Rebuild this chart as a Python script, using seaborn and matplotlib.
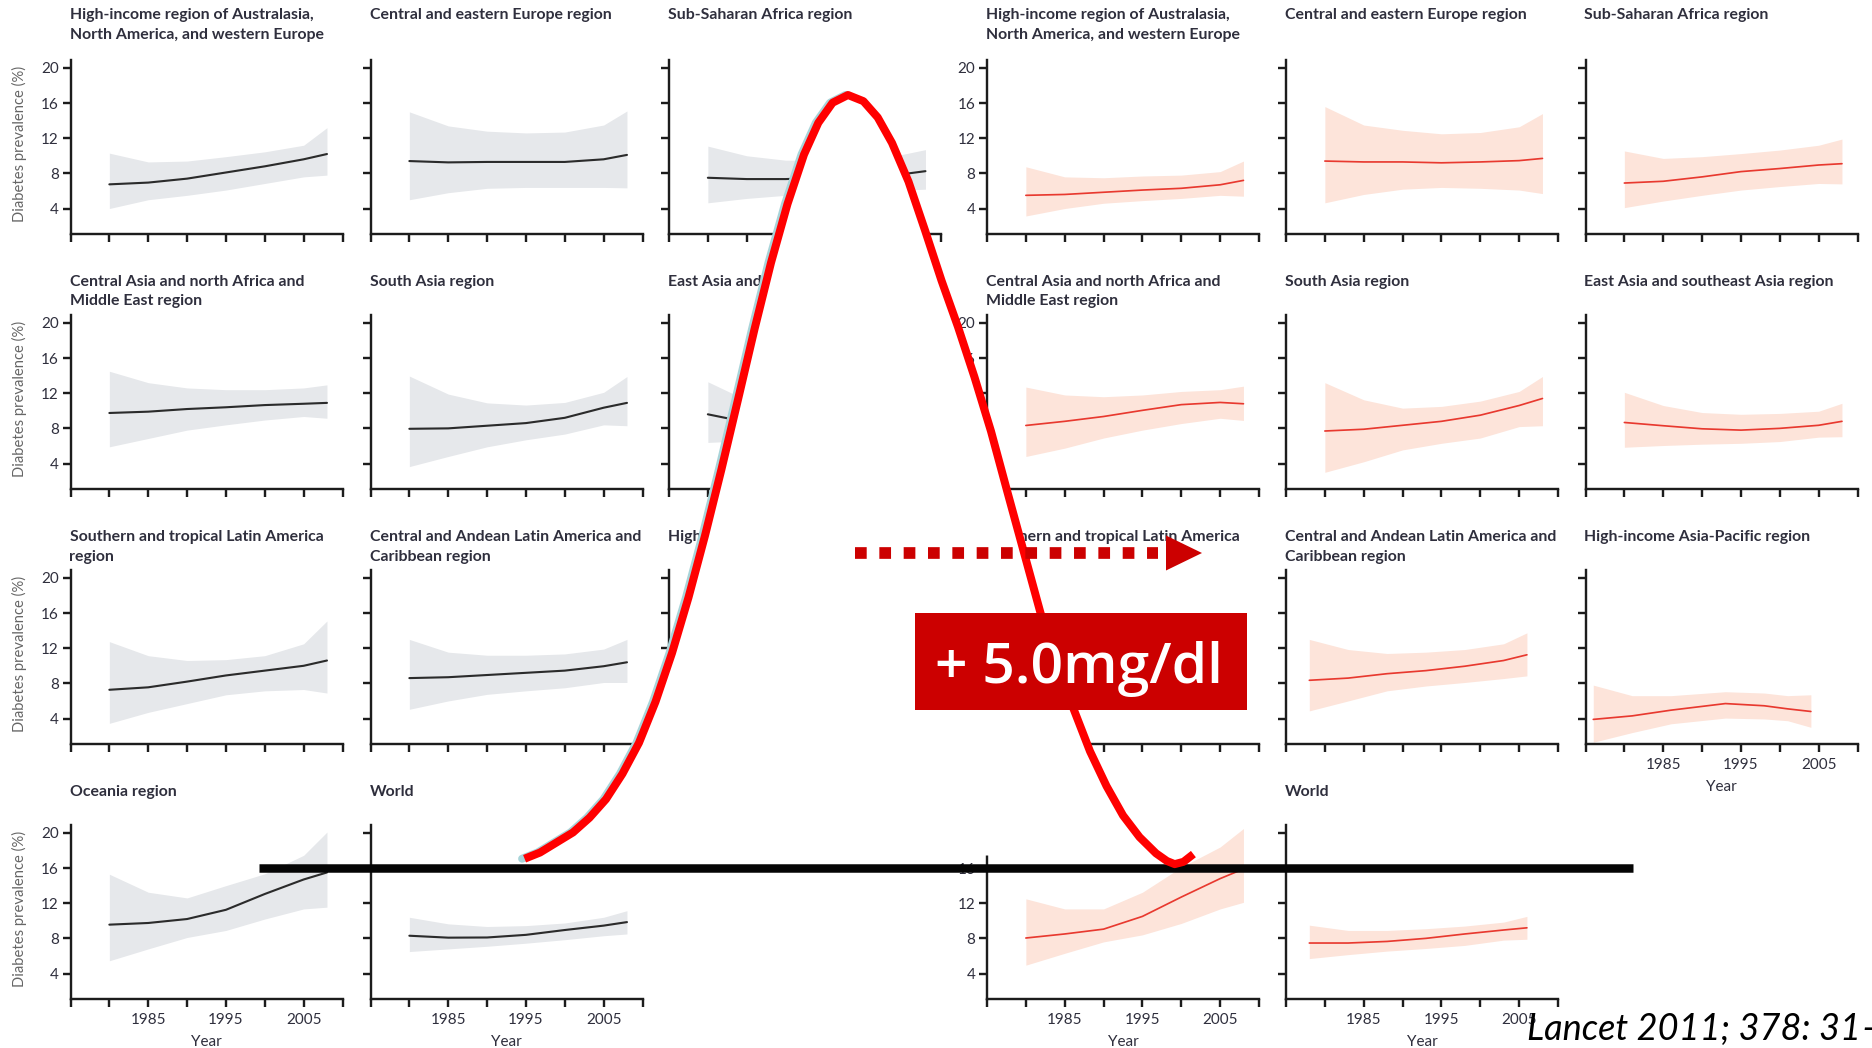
import matplotlib

matplotlib.use("Agg")
import matplotlib.pyplot as plt
import pandas as pd
import seaborn as sns
from matplotlib.patches import Polygon, Rectangle
from matplotlib.transforms import offset_copy

W, H = 1872, 1048
PT = 72 / 100  # points per pixel at dpi 100

REGIONS = [
    "High-income region of Australasia,\nNorth America, and western Europe",
    "Central and eastern Europe region",
    "Sub-Saharan Africa region",
    "Central Asia and north Africa and\nMiddle East region",
    "South Asia region",
    "East Asia and southeast Asia region",
    "Southern and tropical Latin America\nregion",
    "Central and Andean Latin America and\nCaribbean region",
    "High-income Asia-Pacific region",
    "Oceania region",
    "World",
]

YEARS = [1980, 1985, 1990, 1995, 2000, 2005, 2008]
YEARS_EARLY = [1978, 1983, 1988, 1993, 1998, 2003, 2006]
YEARS_HIAP = [1976, 1981, 1986, 1993, 1998, 2001, 2004]

X_TICKS = [1975, 1980, 1985, 1990, 1995, 2000, 2005, 2010]
X_LABELLED = ["1985", "1995", "2005"]
Y_TICKS = [4, 8, 12, 16, 20]

# left block, grey bands
GREY_HIWEST = [6.75, 6.95, 7.4, 8.1, 8.8, 9.6, 10.2]
GREY_HIWEST_LO = [4.0, 5.0, 5.5, 6.1, 6.85, 7.6, 7.8]
GREY_HIWEST_HI = [10.3, 9.3, 9.4, 9.9, 10.45, 11.2, 13.2]
GREY_CEEUR = [9.4, 9.25, 9.3, 9.3, 9.3, 9.6, 10.1]
GREY_CEEUR_LO = [5.0, 5.8, 6.3, 6.4, 6.4, 6.4, 6.35]
GREY_CEEUR_HI = [15.0, 13.4, 12.8, 12.6, 12.7, 13.5, 15.1]
GREY_SSA = [7.5, 7.35, 7.35, 7.5, 7.7, 7.9, 8.25]
GREY_SSA_LO = [4.65, 5.15, 5.5, 5.7, 5.9, 6.1, 6.2]
GREY_SSA_HI = [11.1, 10.0, 9.5, 9.5, 9.7, 10.15, 10.7]
GREY_CANAME = [9.75, 9.9, 10.2, 10.4, 10.65, 10.8, 10.9]
GREY_CANAME_LO = [5.9, 6.85, 7.8, 8.4, 8.95, 9.35, 9.15]
GREY_CANAME_HI = [14.5, 13.2, 12.6, 12.4, 12.4, 12.6, 12.95]
GREY_SASIA = [7.95, 8.0, 8.3, 8.6, 9.2, 10.35, 10.9]
GREY_SASIA_LO = [3.65, 4.8, 5.9, 6.7, 7.35, 8.4, 8.3]
GREY_SASIA_HI = [13.95, 11.9, 10.9, 10.65, 10.95, 12.1, 13.9]
GREY_EASIA = [9.6, 8.7, 8.5, 8.6, 8.9, 9.3, 9.6]
GREY_EASIA_LO = [6.4, 6.6, 6.8, 7.0, 7.3, 7.6, 7.5]
GREY_EASIA_HI = [13.3, 11.2, 10.8, 10.9, 11.0, 11.5, 12.2]
GREY_STLA = [7.27, 7.55, 8.2, 8.9, 9.45, 10.0, 10.6]
GREY_STLA_LO = [3.45, 4.7, 5.7, 6.7, 7.15, 7.3, 6.9]
GREY_STLA_HI = [12.75, 11.15, 10.6, 10.7, 11.15, 12.5, 15.1]
GREY_CALA = [8.6, 8.7, 8.95, 9.2, 9.45, 9.95, 10.4]
GREY_CALA_LO = [5.05, 6.0, 6.75, 7.15, 7.5, 8.1, 8.1]
GREY_CALA_HI = [13.0, 11.55, 11.2, 11.2, 11.35, 11.9, 13.0]
GREY_OCEANIA = [9.56, 9.75, 10.2, 11.25, 13.05, 14.7, 15.5]
GREY_OCEANIA_LO = [5.45, 6.8, 8.1, 8.9, 10.2, 11.35, 11.55]
GREY_OCEANIA_HI = [15.3, 13.25, 12.6, 14.0, 15.35, 17.45, 20.1]
GREY_WORLD = [8.3, 8.08, 8.1, 8.4, 8.95, 9.45, 9.85]
GREY_WORLD_LO = [6.5, 6.8, 7.1, 7.45, 7.85, 8.3, 8.5]
GREY_WORLD_HI = [10.4, 9.65, 9.35, 9.45, 9.75, 10.4, 11.15]

# right block, red bands
RED_HIWEST = [5.5, 5.6, 5.85, 6.1, 6.3, 6.7, 7.2]
RED_HIWEST_LO = [3.15, 4.0, 4.6, 4.9, 5.15, 5.5, 5.4]
RED_HIWEST_HI = [8.75, 7.6, 7.5, 7.7, 7.8, 8.2, 9.4]
RED_CEEUR = [9.4, 9.3, 9.3, 9.2, 9.3, 9.45, 9.7]
RED_CEEUR_LO = [4.65, 5.6, 6.2, 6.4, 6.3, 6.1, 5.7]
RED_CEEUR_HI = [15.6, 13.5, 12.9, 12.5, 12.65, 13.3, 14.8]
RED_SSA = [6.9, 7.1, 7.6, 8.2, 8.55, 8.95, 9.1]
RED_SSA_LO = [4.1, 4.85, 5.5, 6.1, 6.5, 6.85, 6.8]
RED_SSA_HI = [10.55, 9.7, 9.9, 10.25, 10.65, 11.2, 11.9]
RED_CANAME = [8.33, 8.8, 9.35, 10.05, 10.7, 10.95, 10.8]
RED_CANAME_LO = [4.8, 5.75, 6.9, 7.8, 8.55, 9.15, 8.9]
RED_CANAME_HI = [12.7, 11.8, 11.6, 11.8, 12.2, 12.4, 12.8]
RED_SASIA = [7.7, 7.9, 8.35, 8.8, 9.5, 10.6, 11.4]
RED_SASIA_LO = [3.0, 4.2, 5.55, 6.3, 6.9, 8.2, 8.3]
RED_SASIA_HI = [13.2, 11.25, 10.3, 10.5, 11.1, 12.2, 13.9]
RED_EASIA = [8.67, 8.3, 7.95, 7.8, 8.0, 8.35, 8.8]
RED_EASIA_LO = [5.85, 6.05, 6.2, 6.3, 6.5, 7.0, 7.05]
RED_EASIA_HI = [12.1, 10.6, 9.8, 9.6, 9.7, 9.95, 10.85]
RED_CALA = [8.35, 8.6, 9.1, 9.45, 9.95, 10.6, 11.25]
RED_CALA_LO = [4.87, 6.0, 7.15, 7.7, 8.1, 8.55, 8.85]
RED_CALA_HI = [13.0, 11.85, 11.4, 11.55, 11.85, 12.5, 13.75]
RED_HIAP = [3.9, 4.3, 4.95, 5.7, 5.45, 5.1, 4.8]
RED_HIAP_LO = [1.3, 2.4, 3.4, 4.05, 3.95, 3.75, 3.0]
RED_HIAP_HI = [7.8, 6.6, 6.6, 7.05, 6.9, 6.6, 6.7]
RED_OCEANIA = [8.04, 8.5, 9.05, 10.5, 12.7, 14.8, 15.9]
RED_OCEANIA_LO = [4.95, 6.3, 7.6, 8.4, 9.7, 11.35, 12.1]
RED_OCEANIA_HI = [12.5, 11.35, 11.35, 13.25, 16.1, 18.4, 20.5]
RED_WORLD = [7.47, 7.47, 7.65, 8.0, 8.5, 8.95, 9.2]
RED_WORLD_LO = [5.7, 6.15, 6.55, 6.85, 7.2, 7.8, 7.9]
RED_WORLD_HI = [9.5, 8.9, 8.9, 9.1, 9.4, 9.85, 10.5]

# hand-drawn bell curve laid over the slide (x in sd, height in % of peak)
CURVE_SD = [-2.94, -2.8, -2.65, -2.5, -2.35, -2.2, -2.05, -1.9, -1.75, -1.6, -1.45,
            -1.3, -1.15, -1.0, -0.85, -0.7, -0.55, -0.4, -0.27, -0.14, 0.0,
            0.14, 0.27, 0.4, 0.55, 0.7, 0.85, 1.0, 1.15, 1.3, 1.45, 1.6, 1.75,
            1.9, 2.05, 2.2, 2.35, 2.5, 2.65, 2.8, 2.9, 2.97, 3.05, 3.14]
CURVE_HEIGHT = [1.2, 2.0, 3.3, 4.6, 6.5, 8.9, 12.2, 16.2, 21.5, 27.8, 35.0,
                43.0, 51.6, 60.6, 69.7, 78.3, 85.9, 92.3, 96.4, 99.0, 100.0,
                99.2, 97.1, 93.8, 88.8, 82.5, 76.0, 70.0, 63.5, 56.5, 48.6, 40.8, 33.0,
                26.4, 20.6, 15.1, 10.6, 6.8, 4.0, 1.9, 0.9, 0.5, 0.8, 1.8]

SHIFT_LABEL = "+ 5.0mg/dl"
SOURCE_LABEL = "Lancet 2011; 378: 31\u20134"

GREY_PANELS = [
    (0, YEARS, GREY_HIWEST, GREY_HIWEST_LO, GREY_HIWEST_HI),
    (1, YEARS, GREY_CEEUR, GREY_CEEUR_LO, GREY_CEEUR_HI),
    (2, YEARS, GREY_SSA, GREY_SSA_LO, GREY_SSA_HI),
    (3, YEARS, GREY_CANAME, GREY_CANAME_LO, GREY_CANAME_HI),
    (4, YEARS, GREY_SASIA, GREY_SASIA_LO, GREY_SASIA_HI),
    (5, YEARS, GREY_EASIA, GREY_EASIA_LO, GREY_EASIA_HI),
    (6, YEARS, GREY_STLA, GREY_STLA_LO, GREY_STLA_HI),
    (7, YEARS, GREY_CALA, GREY_CALA_LO, GREY_CALA_HI),
    (9, YEARS, GREY_OCEANIA, GREY_OCEANIA_LO, GREY_OCEANIA_HI),
    (10, YEARS, GREY_WORLD, GREY_WORLD_LO, GREY_WORLD_HI),
]
RED_PANELS = [
    (0, YEARS, RED_HIWEST, RED_HIWEST_LO, RED_HIWEST_HI),
    (1, YEARS, RED_CEEUR, RED_CEEUR_LO, RED_CEEUR_HI),
    (2, YEARS, RED_SSA, RED_SSA_LO, RED_SSA_HI),
    (3, YEARS, RED_CANAME, RED_CANAME_LO, RED_CANAME_HI),
    (4, YEARS, RED_SASIA, RED_SASIA_LO, RED_SASIA_HI),
    (5, YEARS, RED_EASIA, RED_EASIA_LO, RED_EASIA_HI),
    (7, YEARS_EARLY, RED_CALA, RED_CALA_LO, RED_CALA_HI),
    (8, YEARS_HIAP, RED_HIAP, RED_HIAP_LO, RED_HIAP_HI),
    (9, YEARS, RED_OCEANIA, RED_OCEANIA_LO, RED_OCEANIA_HI),
    (10, YEARS_EARLY, RED_WORLD, RED_WORLD_LO, RED_WORLD_HI),
]

# layout, in pixels of the 1872x1048 slide
COL_LEFT_PX = [70.5, 370.5, 669, 987, 1286, 1585.5]
ROW_BOTTOM_PX = [234, 489, 744, 999]
TITLE_TOP_PX = [8, 275, 530, 785]
AX_W_PX, AX_H_PX = 272, 174

INK = "#2f2f3d"
SPINE = "#1c1c1c"


def to_frame(panels):
    rows = []
    for region, years, mean, lo, hi in panels:
        for y, m, l, h in zip(years, mean, lo, hi):
            rows.append({"region": region, "year": y, "mean": m, "lo": l, "hi": h})
    return pd.DataFrame(rows)


def draw_block(fig, data, col0, line_color, band_color, line_px, with_ylabel):
    for idx, title in enumerate(REGIONS):
        row, col = divmod(idx, 3)
        x0 = COL_LEFT_PX[col0 + col]
        yb = ROW_BOTTOM_PX[row]
        ax = fig.add_axes([x0 / W, 1 - yb / H, AX_W_PX / W, AX_H_PX / H])
        ax.patch.set_alpha(0)
        sub = data[data["region"] == idx]
        if len(sub):
            ax.fill_between(sub["year"], sub["lo"], sub["hi"], color=band_color, lw=0)
            sns.lineplot(data=sub, x="year", y="mean", ax=ax, color=line_color,
                         lw=line_px * PT, errorbar=None)
        ax.set_xlim(1975, 2010)
        ax.set_ylim(1.1, 20.9)
        ax.set_xlabel("")
        ax.set_ylabel("")
        sns.despine(ax=ax)
        for side in ("left", "bottom"):
            ax.spines[side].set_linewidth(2.4 * PT)
            ax.spines[side].set_color(SPINE)
        ax.set_xticks(X_TICKS)
        ax.set_yticks(Y_TICKS)
        ax.tick_params(axis="both", which="major", direction="out", length=8 * PT,
                       width=2.4 * PT, color=SPINE, labelcolor=INK, labelsize=11,
                       bottom=True, left=True)
        ax.tick_params(axis="x", pad=4)
        ax.tick_params(axis="y", pad=2.6)
        if idx >= 8:
            ax.set_xticklabels([str(t) if str(t) in X_LABELLED else "" for t in X_TICKS])
            ax.set_xlabel("Year", fontsize=11, color=INK, labelpad=6)
        else:
            ax.set_xticklabels([])
        if col == 0:
            ax.set_yticklabels([str(t) for t in Y_TICKS])
        else:
            ax.set_yticklabels([])
        fig.text((x0 - 1) / W, 1 - TITLE_TOP_PX[row] / H, title, ha="left", va="top",
                 fontsize=11.4, fontweight="bold", color=INK, linespacing=1.5)
        if with_ylabel and col == 0:
            fig.text(19 / W, 1 - (yb - 90) / H, "Diabetes prevalence (%)", rotation=90,
                     ha="center", va="center", fontsize=10.6, color="#666666")


def main():
    sns.set_style("ticks")
    plt.rcParams["font.family"] = ["Lato", "DejaVu Sans"]

    fig = plt.figure(figsize=(W / 100, H / 100), dpi=100)
    fig.patch.set_facecolor("white")

    grey = to_frame(GREY_PANELS)
    red = to_frame(RED_PANELS)
    draw_block(fig, grey, 0, "#2b2b2b", "#e6e8eb", 2.1, True)
    draw_block(fig, red, 3, "#e8392f", "#fde4da", 1.7, False)

    # black reference line, under the curve
    ax_line = fig.add_axes([0, 0, 1, 1], zorder=19)
    ax_line.set_xlim(0, W)
    ax_line.set_ylim(H, 0)
    ax_line.axis("off")
    ax_line.plot([259, 1633], [868, 868], color="#050505", lw=8.5 * PT, solid_capstyle="butt")

    # bell curve, white inside so it hides the panels beneath
    centre_px, sd_px, base_px, px_per_pct = 848, 110, 868, 7.73
    ax_curve = fig.add_axes([0, 0, 1, 1], zorder=20)
    ax_curve.set_xlim(-centre_px / sd_px, (W - centre_px) / sd_px)
    ax_curve.set_ylim((base_px - H) / px_per_pct, base_px / px_per_pct)
    ax_curve.axis("off")
    ax_curve.fill(CURVE_SD, CURVE_HEIGHT, color="white", lw=0)
    left_half = CURVE_SD.index(0.0) + 1
    shadow = offset_copy(ax_curve.transData, fig=fig, x=-2.5, y=0, units="dots")
    ax_curve.plot(CURVE_SD[:left_half], CURVE_HEIGHT[:left_half], color="#a8d4d9",
                  lw=8 * PT, transform=shadow, solid_joinstyle="round")
    ax_curve.plot(CURVE_SD, CURVE_HEIGHT, color="#ff0000", lw=8 * PT,
                  solid_joinstyle="round", solid_capstyle="butt")

    # arrow, label box and source
    ax_note = fig.add_axes([0, 0, 1, 1], zorder=30)
    ax_note.set_xlim(0, W)
    ax_note.set_ylim(H, 0)
    ax_note.axis("off")
    ax_note.plot([855, 1158], [553, 553], color="#cc0000", lw=11.7 * PT,
                 dashes=(1, 1.08), dash_capstyle="butt")
    ax_note.add_patch(Polygon([(1166, 535.5), (1202, 553), (1166, 570.5)],
                              closed=True, color="#cc0000", lw=0))
    ax_note.add_patch(Rectangle((915, 613), 332, 97, color="#cc0000", lw=0))
    ax_note.text(1079, 683, SHIFT_LABEL, ha="center", va="baseline", color="white",
                 fontsize=41, fontweight="semibold", family=["Open Sans", "DejaVu Sans"])
    ax_note.text(1527, 1040, SOURCE_LABEL, ha="left", va="baseline", color="black",
                 fontsize=26, style="italic", family=["Lato", "DejaVu Sans"])

    fig.savefig("out.png", dpi=100)
    plt.close(fig)


if __name__ == "__main__":
    main()
